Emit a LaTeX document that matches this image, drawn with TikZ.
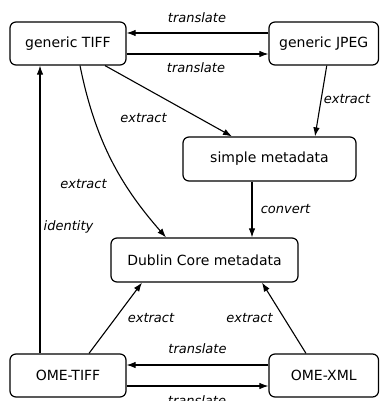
\documentclass[tikz,border=0pt]{standalone}
\usepackage{fontspec}
\setmainfont{DejaVu Sans}
\usetikzlibrary{arrows.meta}
\begin{document}
\begin{tikzpicture}[x=1pt,y=-1pt,
  box/.style={draw, line width=1.2pt, rounded corners=6pt, inner sep=0pt,
    font=\fontsize{14}{16}\selectfont},
  lbl/.style={font=\fontsize{13}{15}\itshape, inner sep=0pt},
  arr/.style={line width=1.1pt, -{Latex[length=9pt,width=6.5pt]}}]
\fill[white] (0,0) rectangle (380,401);
\clip (0,0) rectangle (380,401);
% format and metadata boxes
\node[box, minimum width=116pt, minimum height=43pt] (gt) at (68,43.5) {generic TIFF};
\node[box, minimum width=109.5pt, minimum height=43pt] (gj) at (323.75,43.5) {generic JPEG};
\node[box, minimum width=173pt, minimum height=44pt] (sm) at (269.5,159) {simple metadata};
\node[box, minimum width=187pt, minimum height=44pt] (dc) at (204.5,260) {Dublin Core metadata};
\node[box, minimum width=116pt, minimum height=43pt] (ot) at (68,375.5) {OME-TIFF};
\node[box, minimum width=109.5pt, minimum height=43pt] (ox) at (323.75,375.5) {OME-XML};
% conversions between the generic formats
\draw[arr] ([yshift=10.5pt]gj.west) -- ([yshift=10.5pt]gt.east);
\draw[arr] ([yshift=-10.5pt]gt.east) -- ([yshift=-10.5pt]gj.west);
% metadata extraction
\draw[arr] ([xshift=37pt]gt.south) -- ([xshift=-37.5pt]sm.north);
\draw[arr] ([xshift=3pt]gj.south) -- ([xshift=45.5pt]sm.north);
\draw[arr] ([xshift=12pt]gt.south) .. controls (95,140) and (120,185) .. ([xshift=-38.5pt]dc.north);
\draw[arr] ([xshift=-17.5pt]sm.south) -- ([xshift=-17.5pt]sm.south |- dc.north);
\draw[arr] ([xshift=-28pt]ot.north) -- ([xshift=-28pt]gt.south);
\draw[arr] ([xshift=21pt]ot.north) -- ([xshift=-62.5pt]dc.south);
\draw[arr] ([xshift=-17.75pt]ox.north) -- ([xshift=57.5pt]dc.south);
% conversions between the OME formats
\draw[arr] ([yshift=10.5pt]ox.west) -- ([yshift=10.5pt]ot.east);
\draw[arr] ([yshift=-10.5pt]ot.east) -- ([yshift=-10.5pt]ox.west);
% edge labels
\node[lbl] (l1) at (197,18) {translate};
\node[lbl] (l2) at (196,68) {translate};
\node[lbl] (l3) at (143.5,118) {extract};
\node[lbl] (l4) at (347,99) {extract};
\node[lbl] (l5) at (83.5,184) {extract};
\node[lbl] (l6) at (68.5,226.5) {identity};
\node[lbl] (l7) at (285.5,209) {convert};
\node[lbl] (l8) at (151,318) {extract};
\node[lbl] (l9) at (249.5,318) {extract};
\node[lbl] (l10) at (197.5,349) {translate};
\node[lbl] (l11) at (197,400.5) {translate};
\end{tikzpicture}
\end{document}
